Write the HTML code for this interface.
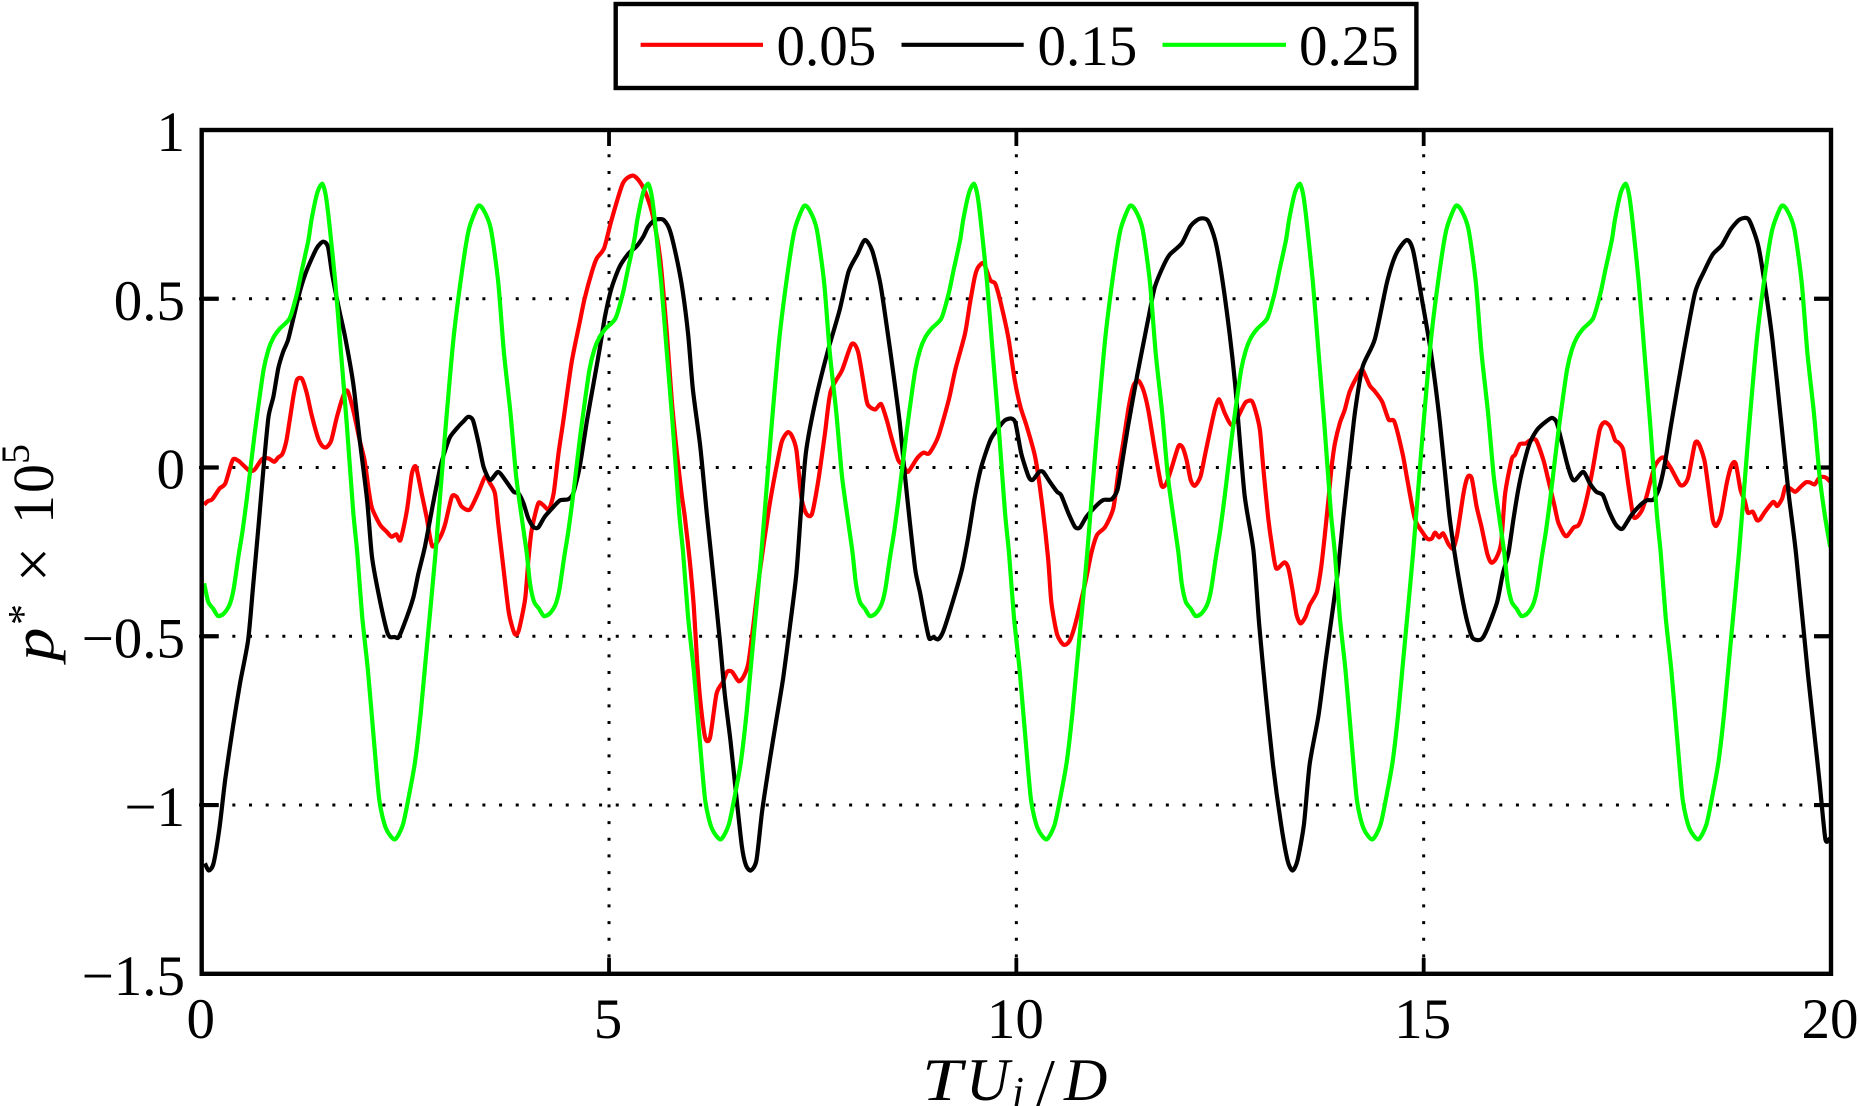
<!DOCTYPE html>
<html lang="en">
<head>
<meta charset="utf-8">
<title>Pressure fluctuation time series</title>
<style>
html,body{margin:0;padding:0;background:#fff;width:1860px;height:1106px;overflow:hidden}
svg{display:block}
text{font-family:"Liberation Serif",serif;fill:#000}
.i{font-style:italic}
</style>
</head>
<body>
<svg id="chart" width="1860" height="1106" viewBox="0 0 1860 1106" xmlns="http://www.w3.org/2000/svg">
  <rect x="0" y="0" width="1860" height="1106" fill="#fff"/>
  <g id="grid"></g>
  <g id="ticks"></g>
  <g id="series"></g>
  <rect x="201.7" y="130" width="1629.3" height="843.8" fill="none" stroke="#000" stroke-width="4.4"/>
  <g id="tick-labels"></g>

  <g>
    <text class="i" font-size="58" transform="translate(53,661) rotate(-90) scale(1.15,1)">p</text>
    <text font-size="42" transform="translate(37,625) rotate(-90)">*</text>
    <text font-size="62" transform="translate(54,582) rotate(-90)">×</text>
    <text font-size="58" letter-spacing="2" transform="translate(53,524) rotate(-90)">10</text>
    <text font-size="40" transform="translate(29,464) rotate(-90)">5</text>
  </g>
  <g>
    <text class="i" font-size="60" transform="translate(922,1100) scale(1.2,1)">T</text>
    <text class="i" font-size="60" x="966" y="1100">U</text>
    <text class="i" font-size="42" x="1012" y="1106">j</text>
    <text font-size="68" x="1036" y="1106">/</text>
    <text class="i" font-size="60" x="1064" y="1100">D</text>
  </g>

  <g>
    <rect x="615.7" y="4" width="800.7" height="84" fill="#fff" stroke="#000" stroke-width="4.4"/>
    <line x1="640.6" y1="44.8" x2="763" y2="44.8" stroke="#ff0000" stroke-width="4.2"/>
    <text font-size="57" x="776.5" y="65">0.05</text>
    <line x1="901.5" y1="44.8" x2="1023.7" y2="44.8" stroke="#000" stroke-width="4.2"/>
    <text font-size="57" x="1037.5" y="65">0.15</text>
    <line x1="1162.5" y1="44.8" x2="1286" y2="44.8" stroke="#00ff00" stroke-width="4.2"/>
    <text font-size="57" x="1299" y="65">0.25</text>
  </g>
</svg>
<script>
var xTicks = [0, 5, 10, 15, 20];
var yTicks = [1, 0.5, 0, -0.5, -1, -1.5];
var xTickLabels = ["0", "5", "10", "15", "20"];
var yTickLabels = ["1", "0.5", "0", "\u22120.5", "\u22121", "\u22121.5"];

var redT = [.03,.08,.13,.22,.29,.38,.45,.51,.59,.65,.74,.82,.89,.94,.99,1.04,1.08,1.13,1.17,1.23,1.29,1.35,1.43,1.48,1.53,1.59,1.66,1.74,1.79,1.86,1.94,2,2.05,2.09,2.19,2.27,2.33,2.39,2.44,2.52,2.58,2.63,2.7,2.76,2.83,2.93,2.99,3.07,3.13,3.19,3.29,3.4,3.48,3.54,3.6,3.64,3.7,3.77,3.84,3.89,3.97,4.01,4.05,4.13,4.19,4.26,4.32,4.38,4.44,4.54,4.64,4.7,4.79,4.85,4.94,5.03,5.17,5.29,5.38,5.46,5.54,5.63,5.71,5.77,5.83,5.89,5.93,5.99,6.04,6.08,6.12,6.18,6.24,6.32,6.4,6.45,6.51,6.59,6.65,6.71,6.77,6.85,6.96,7.04,7.12,7.19,7.24,7.3,7.36,7.42,7.49,7.57,7.65,7.72,7.86,7.98,8.06,8.16,8.2,8.27,8.34,8.41,8.47,8.55,8.61,8.67,8.78,8.86,8.93,9.04,9.17,9.25,9.37,9.43,9.49,9.53,9.6,9.68,9.74,9.8,9.9,9.98,10.05,10.13,10.23,10.31,10.39,10.43,10.5,10.58,10.65,10.72,10.85,10.92,10.99,11.09,11.19,11.25,11.31,11.38,11.44,11.5,11.56,11.62,11.7,11.78,11.84,11.91,11.99,12.04,12.09,12.14,12.19,12.26,12.32,12.38,12.44,12.49,12.56,12.64,12.72,12.81,12.89,12.94,12.99,13.03,13.09,13.14,13.19,13.29,13.34,13.39,13.44,13.49,13.55,13.6,13.69,13.74,13.78,13.83,13.87,13.91,13.97,14.03,14.09,14.18,14.24,14.28,14.34,14.4,14.49,14.57,14.64,14.74,14.8,14.89,14.98,15.05,15.1,15.14,15.19,15.24,15.3,15.36,15.41,15.49,15.54,15.59,15.65,15.71,15.78,15.83,15.89,15.95,16,16.08,16.12,16.18,16.25,16.31,16.38,16.47,16.53,16.6,16.65,16.72,16.76,16.84,16.9,16.95,17.02,17.08,17.16,17.22,17.29,17.35,17.39,17.45,17.51,17.57,17.61,17.68,17.74,17.82,17.87,17.94,18.03,18.09,18.15,18.2,18.25,18.33,18.38,18.45,18.51,18.55,18.59,18.65,18.72,18.78,18.83,18.89,18.94,18.98,19.04,19.09,19.13,19.19,19.29,19.34,19.4,19.44,19.5,19.56,19.62,19.69,19.74,19.8,19.86,19.93,19.99];
var redP = [-.11,-.099,-.094,-.062,-.047,.022,.02,.007,-.01,-.006,.025,.027,.017,.03,.04,.08,.14,.217,.26,.263,.22,.155,.086,.064,.06,.08,.15,.214,.227,.17,.08,.02,-.067,-.12,-.17,-.19,-.205,-.198,-.215,-.126,-.018,.002,-.077,-.146,-.233,-.205,-.166,-.087,-.087,-.115,-.125,-.072,-.027,-.047,-.077,-.166,-.29,-.43,-.492,-.484,-.39,-.274,-.186,-.107,-.111,-.124,-.077,.042,.14,.31,.43,.5,.58,.62,.65,.733,.842,.865,.846,.807,.743,.615,.397,.2,.05,-.077,-.146,-.274,-.41,-.57,-.69,-.8,-.8,-.67,-.635,-.605,-.605,-.633,-.62,-.58,-.47,-.31,-.127,-.017,.076,.104,.096,.052,-.087,-.136,-.138,-.037,.1,.225,.288,.366,.34,.2,.18,.172,.188,.14,.086,.022,.007,-.013,.027,.044,.042,.091,.2,.289,.397,.486,.565,.593,.605,.555,.545,.496,.387,.259,.18,.12,.032,-.097,-.27,-.4,-.494,-.525,-.515,-.467,-.337,-.254,-.2,-.176,-.121,-.018,.071,.18,.244,.257,.229,.17,.052,-.052,-.047,.002,.063,.06,.022,-.037,-.054,-.027,.042,.111,.175,.202,.16,.126,.15,.192,.197,.165,.111,.002,-.146,-.235,-.299,-.281,-.299,-.363,-.437,-.462,-.442,-.408,-.368,-.299,-.215,-.097,.002,.071,.131,.17,.224,.269,.291,.274,.242,.226,.195,.142,.136,.042,-.037,-.151,-.19,-.212,-.21,-.193,-.207,-.195,-.225,-.24,-.2,-.075,-.028,-.032,-.116,-.176,-.255,-.282,-.269,-.225,-.077,.024,.037,.069,.071,.081,.081,.022,-.037,-.107,-.161,-.197,-.203,-.178,-.171,-.141,-.072,.002,.111,.134,.121,.081,.074,.052,-.047,-.141,-.148,-.126,-.082,-.008,.017,.03,0,-.027,-.052,-.05,-.027,.071,.069,.017,-.087,-.156,-.173,-.141,-.047,.007,.012,-.067,-.097,-.134,-.131,-.156,-.153,-.131,-.102,-.114,-.092,-.057,-.062,-.072,-.059,-.044,-.044,-.05,-.029,-.029,-.042];

var blackT = [.04,.087,.145,.218,.29,.385,.47,.57,.63,.7,.76,.82,.88,.94,1,1.06,1.13,1.21,1.29,1.41,1.49,1.55,1.6,1.68,1.76,1.86,1.94,2.03,2.09,2.17,2.27,2.31,2.37,2.42,2.52,2.6,2.66,2.74,2.84,2.93,2.99,3.05,3.15,3.21,3.27,3.33,3.4,3.46,3.54,3.64,3.74,3.83,3.89,3.95,4.01,4.07,4.13,4.21,4.32,4.4,4.5,4.56,4.64,4.73,4.81,4.89,4.95,5.03,5.13,5.24,5.34,5.42,5.48,5.56,5.66,5.73,5.79,5.89,5.97,6.03,6.12,6.2,6.26,6.36,6.42,6.49,6.55,6.63,6.68,6.74,6.81,6.88,6.98,7.06,7.14,7.22,7.3,7.36,7.42,7.54,7.68,7.83,7.94,8.05,8.14,8.23,8.33,8.41,8.49,8.57,8.63,8.69,8.76,8.82,8.88,8.93,8.98,9.04,9.1,9.2,9.33,9.41,9.49,9.57,9.68,9.76,9.86,9.94,9.99,10.06,10.15,10.2,10.28,10.33,10.41,10.5,10.55,10.64,10.72,10.78,10.86,10.99,11.07,11.17,11.24,11.29,11.37,11.48,11.56,11.64,11.7,11.8,11.88,12.03,12.14,12.25,12.35,12.44,12.52,12.62,12.69,12.8,12.91,12.98,13.06,13.15,13.25,13.33,13.39,13.45,13.53,13.6,13.71,13.8,13.89,13.95,14.01,14.09,14.16,14.25,14.4,14.55,14.66,14.79,14.87,14.98,15.09,15.2,15.31,15.38,15.46,15.53,15.6,15.7,15.77,15.9,15.97,16.04,16.1,16.16,16.22,16.3,16.39,16.47,16.57,16.63,16.69,16.76,16.82,16.86,16.96,17.04,17.12,17.2,17.27,17.35,17.41,17.45,17.55,17.66,17.74,17.82,17.89,17.96,18.04,18.19,18.33,18.44,18.55,18.66,18.77,18.88,18.99,19.1,19.17,19.28,19.39,19.48,19.57,19.72,19.79,19.86,19.93,19.98];
var blackP = [-1.173,-1.194,-1.173,-1.068,-.922,-.766,-.64,-.511,-.354,-.166,.002,.15,.21,.294,.343,.378,.447,.526,.585,.649,.669,.654,.575,.476,.387,.249,.081,-.096,-.264,-.373,-.482,-.502,-.502,-.502,-.442,-.383,-.314,-.235,-.107,.002,.052,.091,.121,.136,.15,.14,.071,.002,-.037,-.013,-.042,-.072,-.077,-.106,-.151,-.176,-.178,-.146,-.116,-.097,-.094,-.077,.002,.14,.249,.358,.447,.531,.595,.634,.656,.684,.713,.733,.735,.713,.664,.545,.397,.23,.062,-.136,-.274,-.511,-.67,-.808,-.945,-1.121,-1.178,-1.194,-1.163,-1.017,-.857,-.739,-.62,-.472,-.314,-.116,.05,.204,.34,.466,.58,.632,.674,.643,.545,.417,.279,.13,-.018,-.156,-.304,-.373,-.452,-.506,-.503,-.509,-.487,-.413,-.304,-.205,-.087,.002,.081,.111,.14,.145,.131,.042,-.027,-.037,-.013,-.013,-.042,-.072,-.082,-.136,-.176,-.178,-.146,-.111,-.096,-.094,-.067,.002,.121,.269,.368,.466,.535,.595,.63,.664,.716,.737,.732,.674,.57,.392,.235,-.078,-.245,-.463,-.67,-.88,-1.058,-1.165,-1.194,-1.165,-1.058,-.88,-.733,-.567,-.41,-.3,-.156,.022,.17,.298,.38,.549,.632,.674,.643,.496,.34,.131,-.131,-.254,-.369,-.452,-.505,-.51,-.484,-.4,-.316,-.254,-.156,-.067,.002,.071,.111,.13,.147,.135,.081,.012,-.032,-.037,-.013,-.047,-.072,-.082,-.126,-.166,-.181,-.179,-.141,-.111,-.097,-.095,-.062,.012,.131,.34,.517,.58,.632,.659,.706,.735,.735,.664,.57,.38,.131,-.078,-.254,-.62,-.776,-.933,-1.1,-1.1];

var greenT = [.03,.08,.14,.2,.27,.34,.39,.45,.5,.55,.6,.65,.7,.76,.82,.88,.96,1.08,1.17,1.23,1.31,1.35,1.42,1.48,1.52,1.56,1.64,1.71,1.78,1.86,1.91,1.97,2.04,2.11,2.18,2.26,2.37,2.47,2.55,2.62,2.69,2.75,2.87,2.98,3.09,3.2,3.28,3.39,3.46,3.55,3.64,3.71,3.79,3.86,3.93,3.99,
4.03,4.08,4.14,4.2,4.27,4.34,4.39,4.45,4.5,4.55,4.6,4.65,4.7,4.76,4.82,4.88,4.96,5.08,5.17,5.23,5.31,5.35,5.42,5.48,5.52,5.56,5.64,5.71,5.78,5.86,5.91,5.97,6.04,6.11,6.18,6.26,6.37,6.47,6.55,6.62,6.69,6.75,6.87,6.98,7.09,7.2,7.28,7.39,7.46,7.55,7.64,7.71,7.79,7.86,7.93,7.99,
8.03,8.08,8.14,8.2,8.27,8.34,8.39,8.45,8.5,8.55,8.6,8.65,8.7,8.76,8.82,8.88,8.96,9.08,9.17,9.23,9.31,9.35,9.42,9.48,9.52,9.56,9.64,9.71,9.78,9.86,9.91,9.97,10.04,10.11,10.18,10.26,10.37,10.47,10.55,10.62,10.69,10.75,10.87,10.98,11.09,11.2,11.28,11.39,11.46,11.55,11.64,11.71,11.79,11.86,11.93,11.99,
12.03,12.08,12.14,12.2,12.27,12.34,12.39,12.45,12.5,12.55,12.6,12.65,12.7,12.76,12.82,12.88,12.96,13.08,13.17,13.23,13.31,13.35,13.42,13.48,13.52,13.56,13.64,13.71,13.78,13.86,13.91,13.97,14.04,14.11,14.18,14.26,14.37,14.47,14.55,14.62,14.69,14.75,14.87,14.98,15.09,15.2,15.28,15.39,15.46,15.55,15.64,15.71,15.79,15.86,15.93,15.99,
16.03,16.08,16.14,16.2,16.27,16.34,16.39,16.45,16.5,16.55,16.6,16.65,16.7,16.76,16.82,16.88,16.96,17.08,17.17,17.23,17.31,17.35,17.42,17.48,17.52,17.56,17.64,17.71,17.78,17.86,17.91,17.97,18.04,18.11,18.18,18.26,18.37,18.47,18.55,18.62,18.69,18.75,18.87,18.98,19.09,19.2,19.28,19.39,19.46,19.55,19.64,19.71,19.79,19.86,19.93,19.99];
var greenP = [-.343,-.398,-.418,-.44,-.433,-.408,-.363,-.265,-.19,-.1,0,.1,.19,.29,.35,.385,.412,.442,.516,.585,.674,.737,.815,.841,.81,.737,.549,.34,.131,-.131,-.254,-.442,-.6,-.797,-.985,-1.068,-1.102,-1.058,-.965,-.87,-.724,-.567,-.254,.078,.38,.59,.706,.774,.763,.706,.549,.34,.162,-.026,-.151,-.254,
-.343,-.398,-.418,-.44,-.433,-.408,-.363,-.265,-.19,-.1,0,.1,.19,.29,.35,.385,.412,.442,.516,.585,.674,.737,.815,.841,.81,.737,.549,.34,.131,-.131,-.254,-.442,-.6,-.797,-.985,-1.068,-1.102,-1.058,-.965,-.87,-.724,-.567,-.254,.078,.38,.59,.706,.774,.763,.706,.549,.34,.162,-.026,-.151,-.254,
-.343,-.398,-.418,-.44,-.433,-.408,-.363,-.265,-.19,-.1,0,.1,.19,.29,.35,.385,.412,.442,.516,.585,.674,.737,.815,.841,.81,.737,.549,.34,.131,-.131,-.254,-.442,-.6,-.797,-.985,-1.068,-1.102,-1.058,-.965,-.87,-.724,-.567,-.254,.078,.38,.59,.706,.774,.763,.706,.549,.34,.162,-.026,-.151,-.254,
-.343,-.398,-.418,-.44,-.433,-.408,-.363,-.265,-.19,-.1,0,.1,.19,.29,.35,.385,.412,.442,.516,.585,.674,.737,.815,.841,.81,.737,.549,.34,.131,-.131,-.254,-.442,-.6,-.797,-.985,-1.068,-1.102,-1.058,-.965,-.87,-.724,-.567,-.254,.078,.38,.59,.706,.774,.763,.706,.549,.34,.162,-.026,-.151,-.254,
-.343,-.398,-.418,-.44,-.433,-.408,-.363,-.265,-.19,-.1,0,.1,.19,.29,.35,.385,.412,.442,.516,.585,.674,.737,.815,.841,.81,.737,.549,.34,.131,-.131,-.254,-.442,-.6,-.797,-.985,-1.068,-1.102,-1.058,-.965,-.87,-.724,-.567,-.254,.078,.38,.59,.706,.774,.763,.706,.549,.34,.162,-.026,-.151,-.235];

var NS = "http://www.w3.org/2000/svg";
var plotLeft = 201.7, plotRight = 1831, plotTop = 130, plotBottom = 973.8;
var xMin = 0, xMax = 20, yMin = -1.5, yMax = 1;

function xScale(v) { return plotLeft + (v - xMin) / (xMax - xMin) * (plotRight - plotLeft); }
function yScale(v) { return plotBottom - (v - yMin) / (yMax - yMin) * (plotBottom - plotTop); }

function make(tag, parentId, attrs) {
  var el = document.createElementNS(NS, tag);
  for (var k in attrs) { el.setAttribute(k, attrs[k]); }
  document.getElementById(parentId).appendChild(el);
  return el;
}

xTicks.forEach(function (v, i) {
  var x = xScale(v);
  if (v !== xMin && v !== xMax) {
    var g = make("line", "grid", { x1: x, y1: plotBottom + 0.3, x2: x, y2: plotTop, stroke: "#000", "stroke-width": 3, "stroke-dasharray": "3 13.67" });
    
    
    var t1 = make("line", "ticks", { x1: x, y1: plotBottom, x2: x, y2: plotBottom - 16, stroke: "#000", "stroke-width": 3.8 });
    
    
    var t2 = make("line", "ticks", { x1: x, y1: plotTop, x2: x, y2: plotTop + 16, stroke: "#000", "stroke-width": 3.8 });
    
    
  }
  var lab = make("text", "tick-labels", { x: x - 1, y: 1038, "text-anchor": "middle", "font-size": 57 });
  lab.textContent = xTickLabels[i];
  
  
});

yTicks.forEach(function (v, i) {
  var y = yScale(v);
  if (v !== yMin && v !== yMax) {
    var g = make("line", "grid", { x1: plotLeft - 2.7, y1: y, x2: plotRight, y2: y, stroke: "#000", "stroke-width": 3, "stroke-dasharray": "3 13.67" });
    
    
    var t1 = make("line", "ticks", { x1: plotLeft, y1: y, x2: plotLeft + 17, y2: y, stroke: "#000", "stroke-width": 4.2 });
    
    
    var t2 = make("line", "ticks", { x1: plotRight, y1: y, x2: plotRight - 17, y2: y, stroke: "#000", "stroke-width": 4.2 });
    
    
  }
  var lab = make("text", "tick-labels", { x: 185, y: y + 21, "text-anchor": "end", "font-size": 57 });
  lab.textContent = yTickLabels[i];
  
  
});

function drawSeries(ts, ps, color) {
  var xs = ts.map(xScale);
  var ys = ps.map(yScale);
  var d = "M" + xs[0].toFixed(2) + " " + ys[0].toFixed(2);
  var k = 0.12;
  for (var i = 0; i < xs.length - 1; i++) {
    var a = Math.max(i - 1, 0), b = Math.min(i + 2, xs.length - 1);
    var c1x = xs[i] + (xs[i + 1] - xs[a]) * k;
    var c1y = ys[i] + (ys[i + 1] - ys[a]) * k;
    var c2x = xs[i + 1] - (xs[b] - xs[i]) * k;
    var c2y = ys[i + 1] - (ys[b] - ys[i]) * k;
    d += "C" + c1x.toFixed(2) + " " + c1y.toFixed(2) + " " + c2x.toFixed(2) + " " + c2y.toFixed(2) + " " + xs[i + 1].toFixed(2) + " " + ys[i + 1].toFixed(2);
  }
  return make("path", "series", { d: d, fill: "none", stroke: color, "stroke-width": 4.2, "stroke-linejoin": "round" });
}

var redLine = drawSeries(redT, redP, "#ff0000");


var blackLine = drawSeries(blackT, blackP, "#000000");


var greenLine = drawSeries(greenT, greenP, "#00ff00");


</script>
</body>
</html>
